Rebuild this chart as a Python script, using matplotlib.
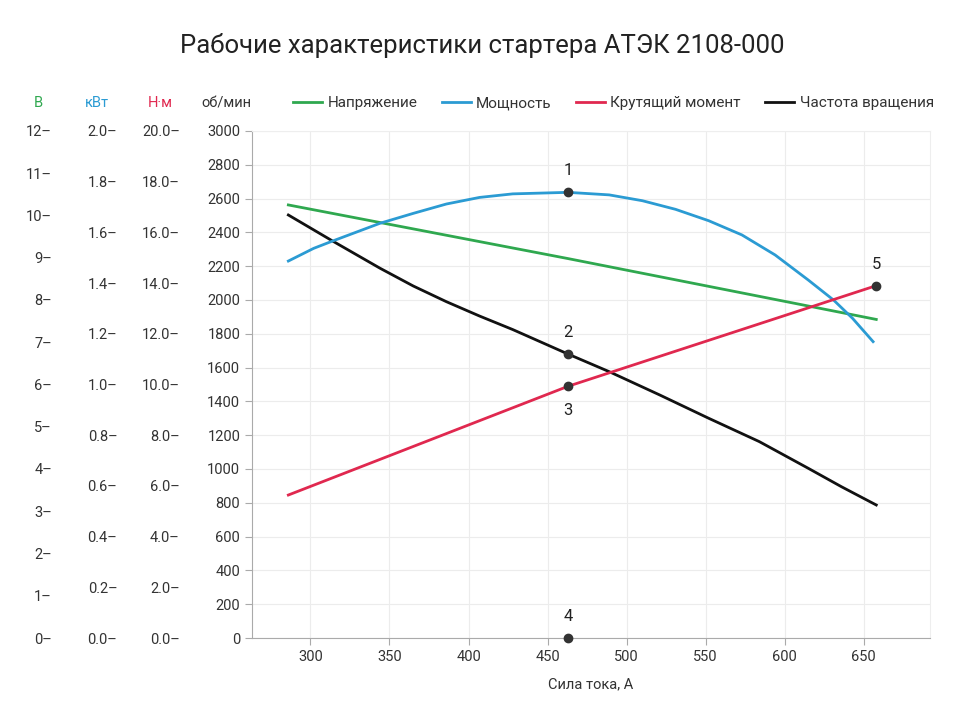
import numpy as np
import matplotlib
matplotlib.use("Agg")
import matplotlib.pyplot as plt
from matplotlib.ticker import FuncFormatter

plt.rcParams['font.family'] = ['Roboto', 'DejaVu Sans']

# current, A
current_power = [286, 302, 314, 344, 365, 386, 407, 428, 463, 489, 510, 531, 552, 573, 594, 615, 631, 643, 656]
power_kw = [1.487, 1.537, 1.566, 1.636, 1.675, 1.712, 1.738, 1.752, 1.758, 1.748, 1.725, 1.691,
            1.646, 1.590, 1.511, 1.412, 1.333, 1.261, 1.169]

current_speed = [286, 314, 344, 365, 386, 407, 428, 463, 489, 521, 552, 584, 615, 636, 658]
speed_rpm = [2503, 2349, 2188, 2083, 1990, 1905, 1825, 1680, 1576, 1438, 1300, 1162, 1004, 895, 787]

current_volt = [286, 463, 658]
voltage_v = [10.25, 8.98, 7.54]

current_torque = [286, 463, 658]
torque_nm = [5.64, 9.93, 13.9]

# marked points: label, current, value, which scale
point_labels = ['1', '2', '3', '4', '5']
point_current = [463, 463, 463, 463, 658]
point_value = [1.758, 1680, 9.93, 0, 13.9]
point_scale = ['kw', 'rpm', 'nm', 'rpm', 'nm']

green = '#2fa84f'
blue = '#2b9bd3'
red = '#e0284f'
black = '#111111'

fig = plt.figure(figsize=(9.6, 7.2), dpi=100)
ax = fig.add_axes([252/960, 1-638/720, (930-252)/960, (638-131)/720])

ax.set_xlim(263, 692)
ax.set_ylim(0, 3000)
ax.set_xticks(np.arange(300, 651, 50))
ax.set_yticks(np.arange(0, 3001, 200))
ax.grid(True, color='#ececec', linewidth=0.8)
ax.set_axisbelow(True)
for s in ['left', 'bottom']:
    ax.spines[s].set_color('#aaaaaa')
for s in ['top', 'right']:
    ax.spines[s].set_color('#eeeeee')
ax.tick_params(colors='#aaaaaa', labelcolor='#333333', labelsize=10.5, length=5)
ax.set_xlabel('Сила тока, А', fontsize=10.5, color='#333333', labelpad=10)

def make_twin(offset_pt, top, fmt):
    t = ax.twinx()
    t.set_ylim(0, top)
    t.yaxis.set_ticks_position('left')
    t.spines['left'].set_position(('outward', offset_pt))
    for s in t.spines.values():
        s.set_visible(False)
    t.tick_params(axis='y', length=0, pad=2, labelsize=10.5, labelcolor='#333333')
    t.yaxis.set_major_formatter(FuncFormatter(fmt))
    return t

ax_v = make_twin(142, 12, lambda v, p: '%d–' % v)
ax_v.set_yticks(np.arange(0, 13, 1))
ax_kw = make_twin(95, 2.0, lambda v, p: '%.1f–' % v)
ax_kw.set_yticks(np.arange(0, 2.01, 0.2))
ax_nm = make_twin(50, 20, lambda v, p: '%.1f–' % v)
ax_nm.set_yticks(np.arange(0, 20.1, 2))

l4, = ax.plot(current_speed, speed_rpm, color=black, lw=2, label='Частота вращения')
l1, = ax_v.plot(current_volt, voltage_v, color=green, lw=2, label='Напряжение')
l2, = ax_kw.plot(current_power, power_kw, color=blue, lw=2, label='Мощность')
l3, = ax_nm.plot(current_torque, torque_nm, color=red, lw=2, label='Крутящий момент')

axes_for = {'kw': ax_kw, 'rpm': ax, 'nm': ax_nm}
for lab, xc, val, sc in zip(point_labels, point_current, point_value, point_scale):
    a = axes_for[sc]
    a.plot([xc], [val], 'o', color='#333333', ms=6, zorder=5, clip_on=False)
    dy = -12 if lab == '3' else 10
    a.annotate(lab, (xc, val), xytext=(0, dy), textcoords='offset points',
               ha='center', va='top' if dy < 0 else 'bottom', fontsize=12, color='#222222')

fig.legend(handles=[l1, l2, l3, l4], loc='center right',
           bbox_to_anchor=(940/960, 1 - 103/720), borderaxespad=0,
           ncol=4, frameon=False, fontsize=11, handlelength=1.9,
           handletextpad=0.35, columnspacing=1.6, labelcolor='#333333')

hy = 1 - 103/720
fig.text(38/960, hy, 'В', color=green, ha='center', va='center', fontsize=10.5)
fig.text(97/960, hy, 'кВт', color=blue, ha='center', va='center', fontsize=10.5)
fig.text(160/960, hy, 'Н·м', color=red, ha='center', va='center', fontsize=10.5)
fig.text(226/960, hy, 'об/мин', color='#333333', ha='center', va='center', fontsize=10.5)

fig.text(482/960, 1 - 45/720, 'Рабочие характеристики стартера АТЭК 2108-000',
         ha='center', va='center', fontsize=18.5, color='#222222')

fig.savefig('out.png', dpi=100)
